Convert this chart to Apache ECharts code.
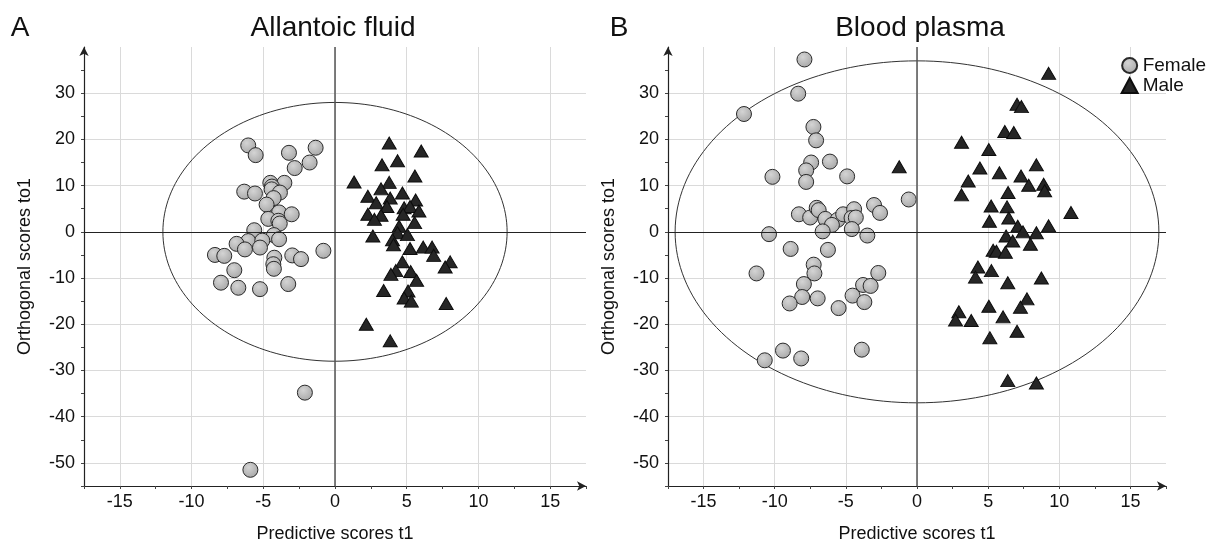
<!DOCTYPE html>
<html>
<head>
<meta charset="utf-8">
<script src="https://cdn.jsdelivr.net/npm/echarts@6/dist/echarts.min.js"></script>
<style>
  html, body { margin: 0; padding: 0; background: #fff; }
  #main { width: 1212px; height: 548px; }
</style>
</head>
<body>
<div id="main"></div>
<script>
// scores, [t1, to1]
var allantoicFemale = [
    [-6.05, 18.7], [-5.53, 16.6], [-3.21, 17.1], [-1.35, 18.2], [-1.77, 15.0], [-2.81, 13.8],
    [-3.53, 10.6], [-4.51, 10.6], [-4.4, 9.8], [-6.33, 8.7], [-5.58, 8.3], [-4.42, 9.2],
    [-3.84, 8.5], [-4.28, 7.3], [-4.77, 5.9], [-3.9, 4.2], [-3.02, 3.8], [-4.65, 2.8],
    [-3.95, 2.4], [-3.85, 1.8], [-5.63, 0.35], [-4.26, -0.7], [-3.9, -1.6], [-6.05, -2.0],
    [-5.07, -1.9], [-6.86, -2.6], [-6.28, -3.8], [-5.23, -3.4], [-8.37, -5.0], [-7.72, -5.2],
    [-4.23, -5.6], [-2.98, -5.1], [-2.37, -5.9], [-0.81, -4.1], [-7.02, -8.3], [-4.3, -7.0],
    [-4.26, -8.0], [-7.95, -11.0], [-6.74, -12.1], [-5.23, -12.4], [-3.26, -11.3],
    [-2.1, -34.8], [-5.9, -51.5]
];
var allantoicMale = [
    [3.78, 19.2], [6.01, 17.5], [4.36, 15.4], [3.28, 14.5], [5.57, 12.1], [1.33, 10.8],
    [3.78, 10.7], [3.21, 9.3], [2.29, 7.7], [4.70, 8.4], [3.85, 7.3], [2.87, 6.3],
    [5.62, 6.9], [3.62, 5.5], [4.82, 5.2], [5.23, 5.5], [5.85, 4.5], [2.29, 3.8],
    [3.21, 3.6], [4.75, 3.8], [2.75, 2.7], [5.55, 2.0], [4.47, 1.2], [4.36, -0.2],
    [5.05, -0.6], [2.64, -0.9], [4.01, -1.7], [4.08, -2.8], [5.23, -3.6], [6.15, -3.3],
    [6.77, -3.3], [6.88, -5.1], [4.70, -6.5], [8.03, -6.5], [7.68, -7.6], [4.24, -8.4],
    [3.90, -9.2], [5.28, -8.6], [5.69, -10.5], [3.39, -12.7], [5.09, -12.8], [4.82, -14.3],
    [5.32, -15.0], [7.75, -15.5], [2.18, -20.0], [3.85, -23.6]
];
var plasmaFemale = [
    [-7.91, 37.3], [-8.35, 29.9], [-12.16, 25.5], [-7.28, 22.7], [-7.09, 19.8], [-7.44, 15.0],
    [-6.12, 15.2], [-7.79, 13.3], [-7.79, 10.8], [-10.16, 11.9], [-4.91, 12.0], [-0.58, 7.0],
    [-3.02, 5.8], [-2.60, 4.1], [-8.30, 3.8], [-7.51, 3.1], [-7.05, 5.2], [-6.91, 4.7],
    [-6.44, 2.8], [-5.58, 2.6], [-5.19, 3.8], [-5.98, 1.5], [-4.42, 4.9], [-4.60, 3.0],
    [-4.30, 3.1], [-4.58, 0.6], [-6.63, 0.1], [-3.49, -0.8], [-10.40, -0.5], [-8.88, -3.7],
    [-6.26, -3.9], [-7.26, -7.1], [-7.21, -9.0], [-11.28, -9.0], [-2.72, -8.9], [-7.95, -11.3],
    [-3.79, -11.5], [-3.26, -11.7], [-8.07, -14.1], [-6.98, -14.4], [-8.95, -15.5], [-5.51, -16.5],
    [-4.53, -13.8], [-3.70, -15.2], [-9.42, -25.7], [-10.70, -27.8], [-8.14, -27.4], [-3.88, -25.5]
];
var plasmaMale = [
    [9.25, 34.3], [7.03, 27.6], [7.34, 27.1], [6.17, 21.7], [6.80, 21.5], [3.13, 19.4],
    [5.05, 17.8], [4.42, 13.8], [8.39, 14.5], [5.79, 12.8], [3.60, 11.0], [7.31, 12.1],
    [7.85, 10.1], [8.90, 10.3], [8.97, 8.9], [3.13, 8.0], [6.40, 8.5], [5.21, 5.6],
    [6.33, 5.4], [10.82, 4.2], [6.45, 3.0], [5.09, 2.3], [7.08, 1.2], [7.45, 0.0],
    [9.25, 1.3], [8.39, -0.2], [6.26, -0.9], [6.73, -2.0], [7.97, -2.7], [5.35, -4.0],
    [5.58, -4.2], [6.21, -4.4], [4.28, -7.6], [4.11, -9.8], [5.23, -8.4], [6.38, -11.0],
    [8.74, -10.0], [7.73, -14.5], [7.27, -16.3], [5.05, -16.1], [2.94, -17.3], [2.71, -19.1],
    [3.81, -19.2], [6.05, -18.4], [7.03, -21.5], [5.12, -22.9], [6.38, -32.2], [8.39, -32.7],
    [-1.25, 14.1]
];
// Hotelling T2 ellipse semi-axes [t1, to1]
var allantoicEllipse = [12, 28];
var plasmaEllipse = [17, 37];

var panelTitles = ['Allantoic fluid', 'Blood plasma'];
var panelLetters = ['A', 'B'];
var xName = 'Predictive scores t1';
var yName = 'Orthogonal scores to1';

var FONT = '"Liberation Sans", Arial, sans-serif';

function ellipsePoints(ab) {
    var pts = [];
    for (var i = 0; i <= 360; i += 2) {
        var t = i * Math.PI / 180;
        pts.push([ab[0] * Math.cos(t), ab[1] * Math.sin(t)]);
    }
    return pts;
}

function makeX(idx) {
    return {
        type: 'value', gridIndex: idx, min: -17.5, max: 17.5, interval: 2.5,
        name: xName, nameLocation: 'middle', nameGap: 39,
        nameTextStyle: {fontSize: 18, color: '#111', fontFamily: FONT},
        axisLine: {show: true, onZero: false, symbol: ['none', 'arrow'], symbolSize: [7, 9],
            lineStyle: {color: '#222', width: 1.2}},
        axisTick: {show: true, length: 3, lineStyle: {color: '#444'}},
        axisLabel: {
            fontSize: 18, color: '#111', margin: 7, fontFamily: FONT,
            formatter: function (v) { return v % 5 === 0 ? String(v) : ''; }
        },
        splitLine: {show: true, showMaxLine: false,
            lineStyle: {color: ['rgba(0,0,0,0)', '#dadada'], width: 1}}
    };
}

function makeY(idx) {
    return {
        type: 'value', gridIndex: idx, min: -55, max: 40, interval: 5,
        name: yName, nameLocation: 'middle', nameGap: 50, nameRotate: 90,
        nameTextStyle: {fontSize: 18, color: '#111', fontFamily: FONT},
        axisLine: {show: true, onZero: false, symbol: ['none', 'arrow'], symbolSize: [7, 9],
            lineStyle: {color: '#222', width: 1.2}},
        axisTick: {show: true, length: 3, lineStyle: {color: '#444'}},
        axisLabel: {
            fontSize: 18, color: '#111', margin: 9, fontFamily: FONT, showMaxLabel: false,
            formatter: function (v) { return v % 10 === 0 && v < 40 ? String(v) : ''; }
        },
        splitLine: {show: true, showMaxLine: false,
            lineStyle: {color: ['rgba(0,0,0,0)', '#dadada'], width: 1}}
    };
}

var femaleStyle = {
    color: {
        type: 'radial', x: 0.4, y: 0.35, r: 0.7,
        colorStops: [{offset: 0, color: '#d4d4d4'}, {offset: 1, color: '#a6a6a6'}]
    },
    borderColor: '#2a2a2a', borderWidth: 1, opacity: 1
};
var maleStyle = {color: '#262626', borderColor: '#0d0d0d', borderWidth: 1, opacity: 1};

function ellipseSeries(idx, ab) {
    return {
        type: 'line', xAxisIndex: idx, yAxisIndex: idx, data: ellipsePoints(ab),
        showSymbol: false, silent: true, z: 2,
        lineStyle: {color: '#333', width: 1},
        markLine: {
            silent: true, symbol: 'none', label: {show: false},
            lineStyle: {type: 'solid'},
            data: [
                {xAxis: 0, lineStyle: {color: '#555', width: 1.5}},
                {yAxis: 0, lineStyle: {color: '#222', width: 1.2}}
            ]
        }
    };
}

function scatterSeries(idx, name, data) {
    var female = name === 'Female';
    return {
        name: name, type: 'scatter', xAxisIndex: idx, yAxisIndex: idx, data: data, z: 3,
        symbol: female ? 'circle' : 'triangle',
        symbolSize: female ? 15 : [14, 12],
        itemStyle: female ? femaleStyle : maleStyle,
        emphasis: {disabled: true}
    };
}

var myChart = echarts.init(document.getElementById('main'));
var option = {
    animation: false,
    backgroundColor: '#fff',
    textStyle: {fontFamily: FONT},
    grid: [
        {left: 84, top: 47, width: 502, height: 453},
        {left: 668, top: 47, width: 498, height: 453}
    ],
    legend: {
        data: ['Female', 'Male'], orient: 'vertical', right: 1, top: 51,
        itemWidth: 16, itemHeight: 15, itemGap: 1,
        textStyle: {fontSize: 19, lineHeight: 18, color: '#111', fontFamily: FONT}
    },
    xAxis: [makeX(0), makeX(1)],
    yAxis: [makeY(0), makeY(1)],
    graphic: [
        {type: 'text', x: 20, y: 28, style: {text: panelLetters[0], font: '28px ' + FONT, fill: '#111', align: 'center', verticalAlign: 'middle'}},
        {type: 'text', x: 333, y: 28, style: {text: panelTitles[0], font: '28px ' + FONT, fill: '#111', align: 'center', verticalAlign: 'middle'}},
        {type: 'text', x: 619, y: 28, style: {text: panelLetters[1], font: '28px ' + FONT, fill: '#111', align: 'center', verticalAlign: 'middle'}},
        {type: 'text', x: 920, y: 28, style: {text: panelTitles[1], font: '28px ' + FONT, fill: '#111', align: 'center', verticalAlign: 'middle'}}
    ],
    series: [
        ellipseSeries(0, allantoicEllipse),
        scatterSeries(0, 'Female', allantoicFemale),
        scatterSeries(0, 'Male', allantoicMale),
        ellipseSeries(1, plasmaEllipse),
        scatterSeries(1, 'Female', plasmaFemale),
        scatterSeries(1, 'Male', plasmaMale)
    ]
};
myChart.setOption(option);
</script>
</body>
</html>
